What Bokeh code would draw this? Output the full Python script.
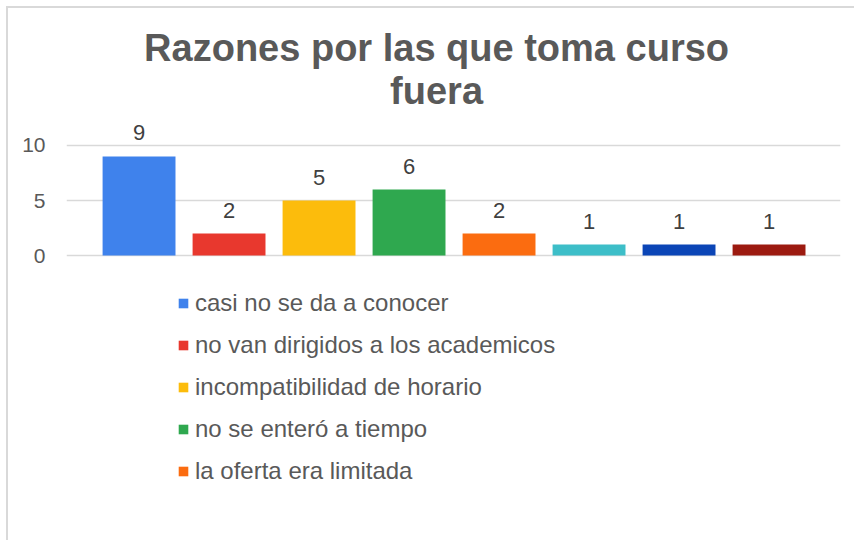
from bokeh.plotting import figure
from bokeh.models import (ColumnDataSource, Range1d, FixedTicker, Legend,
                          LegendItem, Label, LabelSet)
from bokeh.core.properties import value
from bokeh.embed import file_html
from bokeh.resources import INLINE

# ---- data ----
title_lines = ["Razones por las que toma curso", "fuera"]
legend_labels = ["casi no se da a conocer",
                 "no van dirigidos a los academicos",
                 "incompatibilidad de horario",
                 "no se enteró a tiempo",
                 "la oferta era limitada"]
values = [9, 2, 5, 6, 2, 1, 1, 1]
bar_colors = ["#3f82ec", "#e8382e", "#fcbc0c", "#2fa84f",
              "#fb6c10", "#3dbec8", "#0b45b6", "#9c1a10"]
y_ticks = [0, 5, 10]

positions = list(range(len(values)))
source = ColumnDataSource(dict(x=positions, value=values, color=bar_colors,
                               label=[str(v) for v in values]))

FONT = "Liberation Sans"
TXT = "#595959"

p = figure(frame_width=774, frame_height=532,
           min_border_left=58, min_border_right=14,
           min_border_top=0, min_border_bottom=0,
           x_range=Range1d(-0.806, 7.794), y_range=Range1d(-25.909, 22.4545),
           x_axis_location=None, title=None,
           output_backend="svg", toolbar_location=None)
p.styles = {"border-top": "2px solid #d9d9d9", "border-left": "2px solid #d9d9d9",
            "margin-top": "6px", "margin-left": "6px"}
p.outline_line_color = None
p.background_fill_color = "white"
p.border_fill_color = "white"

p.yaxis.ticker = FixedTicker(ticks=y_ticks)
p.yaxis.axis_line_color = None
p.yaxis.major_tick_line_color = None
p.yaxis.minor_tick_line_color = None
p.yaxis.major_label_standoff = 15
p.yaxis.major_label_text_font_size = "21px"
p.yaxis.major_label_text_font = FONT
p.yaxis.major_label_text_color = TXT

p.xgrid.visible = False
p.ygrid.grid_line_color = "#d9d9d9"
p.ygrid.grid_line_width = 1.6

r = p.vbar(x="x", top="value", bottom=0, width=0.81, fill_color="color",
           line_color=None, source=source)

labels = LabelSet(x="x", y="value", text="label", source=source, y_offset=16,
                  text_align="center", text_baseline="alphabetic",
                  text_font_size="22px", text_font=value(FONT),
                  text_color="#404040")
p.add_layout(labels)

title_y = [18.82, 14.91]
for line, ty in zip(title_lines, title_y):
    p.add_layout(Label(x=3.306, y=ty, text=line, text_align="center",
                       text_baseline="alphabetic", text_font=FONT,
                       text_font_size="38px", text_font_style="bold",
                       text_color=TXT))

legend = Legend(items=[LegendItem(label=lab, renderers=[r], index=i)
                       for i, lab in enumerate(legend_labels)],
                location=(111, 55), border_line_color=None,
                background_fill_alpha=0, padding=0, margin=0,
                glyph_width=12, glyph_height=12, label_standoff=6,
                spacing=14, label_height=28,
                label_text_font_size="24px", label_text_font=FONT,
                label_text_color=TXT)
p.add_layout(legend)

open("out.html", "w").write(file_html(p, INLINE))
